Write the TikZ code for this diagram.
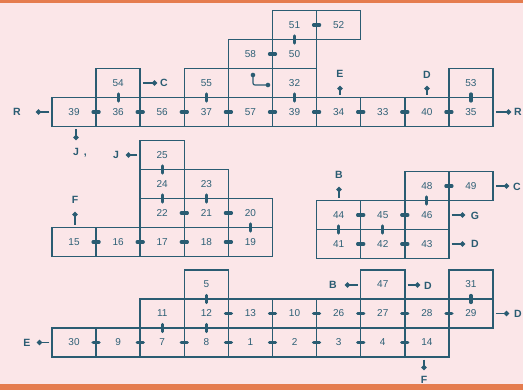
\documentclass[tikz,border=0pt]{standalone}
\usepackage{fontspec}
\setsansfont{Liberation Sans}
\usepackage{tikz}
\usetikzlibrary{arrows.meta,positioning,calc}
\definecolor{wall}{HTML}{2A5C72}
\definecolor{ink}{HTML}{2E6076}
\definecolor{paper}{HTML}{FBE6E8}
\definecolor{edge}{HTML}{E57C4E}

\begin{document}
\begin{tikzpicture}[
  x=1pt, y=-1pt,
  font=\sffamily\fontsize{10}{12}\selectfont,
  room/.style={rectangle,draw=wall,line width=1.5pt,minimum width=44.1pt,
    minimum height=29pt,inner sep=0pt,text=ink},
  door/.style={wall,line width=3.2pt,line cap=round},
  hdoor/.style={door,shorten <=19pt,shorten >=19pt},
  vdoor/.style={door,shorten <=11pt,shorten >=11pt},
  gate/.style={text=wall,font=\sffamily\bfseries\fontsize{10.5}{12}\selectfont,inner sep=1pt},
  exit/.style={-{Circle[length=5pt]},wall,line width=1.3pt,shorten <=2pt}]

% paper and scan edges
\fill[paper] (0,0) rectangle (523,390);
\fill[edge] (0,0) rectangle (523,3);
\fill[edge] (0,384) rectangle (523,390);
\useasboundingbox (0,0) rectangle (523,390);

% rooms, numbered as printed
\foreach \n/\c/\y in {36/1/112, 56/2/112, 37/3/112, 57/4/112, 34/6/112, 33/7/112,
    40/8/112, 35/9/112, 54/1/83, 55/3/83, 32/5/83, 53/9/83, 58/4/54, 50/5/54,
    51/5/25, 52/6/25,
    15/0/242, 16/1/242, 17/2/242, 18/3/242, 19/4/242, 22/2/213, 21/3/213,
    20/4/213, 24/2/184, 23/3/184, 25/2/155,
    44/6/215, 45/7/215, 46/8/215, 41/6/244, 42/7/244, 43/8/244, 48/8/186, 49/9/186,
    30/0/342.5, 9/1/342.5, 7/2/342.5, 8/3/342.5, 1/4/342.5, 2/5/342.5, 3/6/342.5,
    4/7/342.5, 14/8/342.5, 11/2/313.5, 12/3/313.5, 13/4/313.5, 10/5/313.5,
    26/6/313.5, 27/7/313.5, 28/8/313.5, 29/9/313.5, 5/3/284.5, 47/7/284.5, 31/9/284.5}
  \node[room] (n\n) at ({52+44.1*(\c+0.5)},\y) {\n};
\node[room] (n39a) at ({52+44.1*0.5},112) {39};
\node[room] (n39b) at ({52+44.1*5.5},112) {39};
\node[room] (nst) at ({52+44.1*4.5},83) {};

% stair mark
\draw[wall,line width=1.2pt,rounded corners=2pt] ($(nst)+(2.5,-8)$) |- ($(nst)+(17.5,2)$);
\fill[wall] ($(nst)+(2.5,-8)$) circle (2.3pt) ($(nst)+(17.5,2)$) circle (2.3pt);

% doors
\foreach \a/\b in {39a/36, 36/56, 56/37, 37/57, 57/39b, 39b/34, 34/33, 33/40, 40/35,
    58/50, 51/52, 15/16, 16/17, 17/18, 18/19, 22/21, 21/20, 48/49, 44/45, 45/46,
    41/42, 42/43, 30/9, 9/7, 7/8, 8/1, 1/2, 2/3, 3/4, 4/14, 12/13, 13/10, 10/26,
    26/27, 27/28, 28/29}
  \draw[hdoor] (n\a.center) -- (n\b.center);
\foreach \a/\b in {54/36, 55/37, 32/39b, 53/35, 51/50, 25/24, 24/22, 23/21, 20/19,
    48/46, 44/41, 45/42, 11/7, 5/12, 12/8, 31/29}
  \draw[vdoor] (n\a.center) -- (n\b.center);

% exits
\coordinate (tR1) at (36,112);   \node[gate] (gR1) at (17,112) {R};
\draw[exit] (n39a.west) -- (tR1);
\coordinate (tR2) at (511,112);  \node[gate] (gR2) at (518,112) {R};
\draw[exit] (n35.east) -- (tR2);
\coordinate (tC1) at (157,83);   \node[gate] (gC1) at (164,83) {C};
\draw[exit] (n54.east |- tC1) -- (tC1);
\coordinate (tE1) at (340,86);   \node[gate] (gE1) at (340,74) {E};
\draw[exit] (n34.north -| tE1) -- (tE1);
\coordinate (tD1) at (427,86);   \node[gate] (gD1) at (427,75) {D};
\draw[exit] (n40.north -| tD1) -- (tD1);
\coordinate (tJ1) at (76,140);   \node[gate] (gJ1) at (80,153) {J\hspace{5pt},};
\draw[exit] (n39a.south -| tJ1) -- (tJ1);
\coordinate (tJ2) at (126,155);  \node[gate] (gJ2) at (116,155) {J};
\draw[exit] (n25.west) -- (tJ2);
\coordinate (tF1) at (75,212);   \node[gate] (gF1) at (75,200) {F};
\draw[exit] (n15.north -| tF1) -- (tF1);
\coordinate (tB1) at (339,187);  \node[gate] (gB1) at (339,175) {B};
\draw[exit] (n44.north -| tB1) -- (tB1);
\coordinate (tC2) at (509,186);  \node[gate] (gC2) at (517,187) {C};
\draw[exit] (n49.east) -- (tC2);
\coordinate (tG1) at (465,215);  \node[gate] (gG1) at (475,216) {G};
\draw[exit] (n46.east) -- (tG1);
\coordinate (tD2) at (465,244);  \node[gate] (gD2) at (475,244) {D};
\draw[exit] (n43.east) -- (tD2);
\coordinate (tE2) at (37,342.5); \node[gate] (gE2) at (27,342.5) {E};
\draw[exit] (n30.west) -- (tE2);
\coordinate (tB2) at (345,285);  \node[gate] (gB2) at (333,285) {B};
\draw[exit] (n47.west |- tB2) -- (tB2);
\coordinate (tD3) at (420,285);  \node[gate] (gD3) at (428,286) {D};
\draw[exit] (n47.east |- tD3) -- (tD3);
\coordinate (tD4) at (509,313.5); \node[gate] (gD4) at (518,313.5) {D};
\draw[exit] (n29.east) -- (tD4);
\coordinate (tF2) at (424,370);  \node[gate] (gF2) at (424,380) {F};
\draw[exit] (n14.south -| tF2) -- (tF2);
\end{tikzpicture}
\end{document}
